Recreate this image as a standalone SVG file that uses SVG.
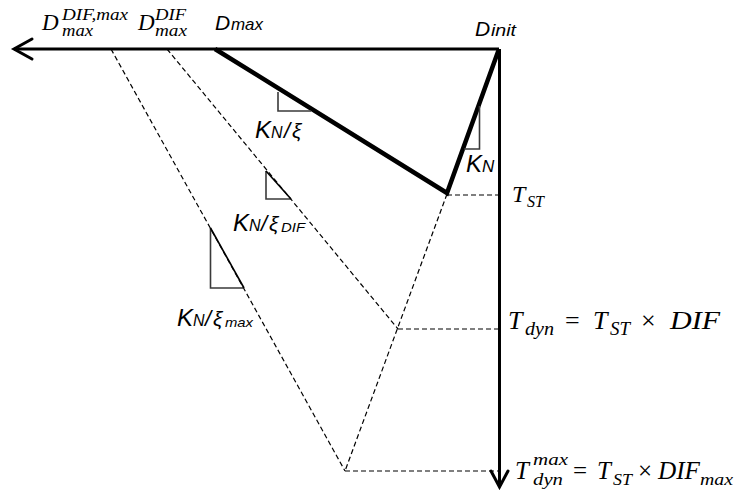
<svg xmlns="http://www.w3.org/2000/svg" width="735" height="490" viewBox="0 0 735 490">
<style>
.ax{fill:none;stroke:#000;stroke-width:3;stroke-linecap:butt}
.arw{fill:none;stroke:#000;stroke-width:3;stroke-linecap:round;stroke-linejoin:miter}
.thick{fill:none;stroke:#000;stroke-width:4.5;stroke-linejoin:miter}
.dash{fill:none;stroke:#000;stroke-width:1.2;stroke-dasharray:5,3}
.tri{fill:none;stroke:#3a3a3a;stroke-width:1.6}
.hyp{fill:none;stroke:#000;stroke-width:1.6}
.sa{font-family:"Liberation Sans",Arial,sans-serif;font-style:italic;fill:#000}
.mi{font-family:"Liberation Serif","Times New Roman",serif;font-style:italic;fill:#000}
.mu{font-family:"Liberation Serif","Times New Roman",serif;fill:#000}
</style>
<g id="connectors">
<path class="dash" d="M111,49 L345,471"/>
<path class="dash" d="M167,49 L398,329"/>
<path class="dash" d="M447,194 L345,471"/>
<path class="dash" d="M447,195 H499"/>
<path class="dash" d="M398,329 H499"/>
<path class="dash" d="M345,471 H499"/>
<path class="thick" d="M215,49 L447,193 L499,49"/>
</g>
<g id="axes">
<path class="ax" d="M499,49 H14"/>
<path class="arw" d="M32,39 L14,49 L32,59"/>
<path class="ax" d="M499.5,49 V486"/>
<path class="arw" d="M491,471 L499.5,487 L508,471"/>
</g>
<g id="slope-kn-xi">
<path class="tri" d="M278,92 V111 H311"/>
</g>
<g id="slope-kn">
<path class="tri" d="M479.5,106 V149 H464"/>
</g>
<g id="slope-kn-xidif">
<path class="tri" d="M266,171 V199 H291"/>
<path class="hyp" d="M266,171 L291,199"/>
</g>
<g id="slope-kn-ximax">
<path class="tri" d="M210.5,228 V288 H244"/>
<path class="hyp" d="M210.5,228 L244,288"/>
</g>
<g id="label-dmax-difmax">
<text class="mi" x="42" y="30" font-size="23">D</text>
<text class="mi" x="62" y="20" font-size="16" textLength="66" lengthAdjust="spacingAndGlyphs">DIF,max</text>
<text class="mi" x="62" y="36" font-size="16" textLength="31" lengthAdjust="spacingAndGlyphs">max</text>
</g>
<g id="label-dmax-dif">
<text class="mi" x="138" y="30" font-size="23">D</text>
<text class="mi" x="155" y="20" font-size="16" textLength="31" lengthAdjust="spacingAndGlyphs">DIF</text>
<text class="mi" x="155" y="36" font-size="16" textLength="32" lengthAdjust="spacingAndGlyphs">max</text>
</g>
<g id="label-dmax">
<text class="sa" x="215" y="30" font-size="21">D</text>
<text class="sa" x="231" y="30" font-size="17" textLength="32" lengthAdjust="spacingAndGlyphs">max</text>
</g>
<g id="label-dinit">
<text class="sa" x="475" y="36" font-size="21">D</text>
<text class="sa" x="491" y="36" font-size="17" textLength="25" lengthAdjust="spacingAndGlyphs">init</text>
</g>
<g id="label-kn-xi">
<text class="sa" x="255" y="138" font-size="24">K</text>
<text class="sa" x="271" y="138" font-size="16">N</text>
<text class="sa" x="284" y="138" font-size="22">/</text>
<text class="sa" x="292" y="138" font-size="21">ξ</text>
</g>
<g id="label-kn-xidif">
<text class="sa" x="233" y="231" font-size="24">K</text>
<text class="sa" x="249" y="231" font-size="16">N</text>
<text class="sa" x="261" y="231" font-size="22">/</text>
<text class="sa" x="269" y="231" font-size="21">ξ</text>
<text class="sa" x="281" y="232" font-size="13" textLength="24" lengthAdjust="spacingAndGlyphs">DIF</text>
</g>
<g id="label-kn-ximax">
<text class="sa" x="177" y="326" font-size="24">K</text>
<text class="sa" x="193" y="326" font-size="16">N</text>
<text class="sa" x="205" y="326" font-size="22">/</text>
<text class="sa" x="213" y="326" font-size="21">ξ</text>
<text class="sa" x="225" y="327" font-size="13" textLength="28" lengthAdjust="spacingAndGlyphs">max</text>
</g>
<g id="label-kn">
<text class="sa" x="466" y="172" font-size="24">K</text>
<text class="sa" x="482" y="172" font-size="17">N</text>
</g>
<g id="label-tst">
<text class="mi" x="512" y="202" font-size="24">T</text>
<text class="mi" x="527" y="207" font-size="17" textLength="17" lengthAdjust="spacingAndGlyphs">ST</text>
</g>
<g id="label-tdyn">
<text class="mi" x="508" y="329" font-size="26">T</text>
<text class="mi" x="525" y="335" font-size="18" textLength="29" lengthAdjust="spacingAndGlyphs">dyn</text>
<text class="mu" x="565" y="329" font-size="26">=</text>
<text class="mi" x="593" y="329" font-size="26">T</text>
<text class="mi" x="610" y="335" font-size="18" textLength="20" lengthAdjust="spacingAndGlyphs">ST</text>
<text class="mu" x="641" y="329" font-size="26">×</text>
<text class="mi" x="670" y="329" font-size="26" textLength="50" lengthAdjust="spacingAndGlyphs">DIF</text>
</g>
<g id="label-tdynmax">
<text class="mi" x="515" y="479" font-size="25">T</text>
<text class="mi" x="533" y="465" font-size="17" textLength="35" lengthAdjust="spacingAndGlyphs">max</text>
<text class="mi" x="533" y="485" font-size="17" textLength="30" lengthAdjust="spacingAndGlyphs">dyn</text>
<text class="mu" x="573" y="479" font-size="25">=</text>
<text class="mi" x="597" y="479" font-size="25">T</text>
<text class="mi" x="613" y="485" font-size="17" textLength="19" lengthAdjust="spacingAndGlyphs">ST</text>
<text class="mu" x="638" y="479" font-size="25">×</text>
<text class="mi" x="658" y="479" font-size="25" textLength="42" lengthAdjust="spacingAndGlyphs">DIF</text>
<text class="mi" x="700" y="485" font-size="17" textLength="33" lengthAdjust="spacingAndGlyphs">max</text>
</g>
</svg>
